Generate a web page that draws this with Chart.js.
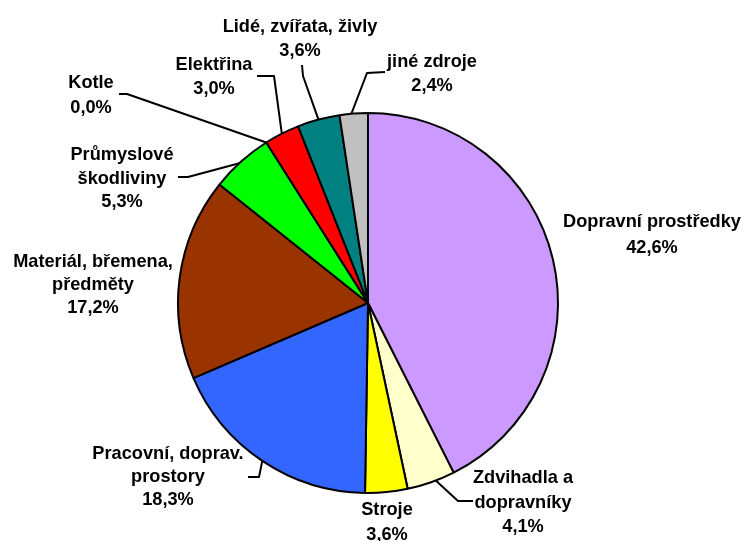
<!DOCTYPE html>
<html>
<head>
<meta charset="utf-8">
<script src="https://cdn.jsdelivr.net/npm/chart.js@4/dist/chart.umd.min.js"></script>
<style>
  html, body { margin: 0; padding: 0; background: #ffffff; }
  #wrap { width: 743px; height: 541px; }
</style>
</head>
<body>
<div id="wrap"><canvas id="c" width="743" height="541"></canvas></div>
<script>
// ---- DATA ----
const categories = [
  ['Dopravní prostředky'],
  ['Zdvihadla a', 'dopravníky'],
  ['Stroje'],
  ['Pracovní, doprav.', 'prostory'],
  ['Materiál, břemena,', 'předměty'],
  ['Průmyslové', 'škodliviny'],
  ['Kotle'],
  ['Elektřina'],
  ['Lidé, zvířata, živly'],
  ['jiné zdroje']
];
const shares = [42.6, 4.1, 3.6, 18.3, 17.2, 5.3, 0.0, 3.0, 3.6, 2.4];
const sliceColors = ['#CC99FF', '#FFFFCC', '#FFFF00', '#3366FF', '#993300',
                     '#00FF00', '#FF6600', '#FF0000', '#008080', '#C0C0C0'];

// ---- label layout (annotation positions only) ----
// cx: text centre x, y: first baseline, lh: line height,
// leader: fixed points from the text side, f: fraction along the slice arc where the leader meets the pie
const labelLayout = [
  { cx: 652, y: 227, lh: 26 },
  { cx: 523, y: 483, lh: 24.5, leader: [[473, 501], [458, 501]], f: 0.4 },
  { cx: 387, y: 515, lh: 25 },
  { cx: 168, y: 459, lh: 23, leader: [[248, 477], [259, 477]], f: 0.5 },
  { cx: 93,  y: 267, lh: 23 },
  { cx: 122, y: 160, lh: 23.5, leader: [[178, 177], [188, 177]], f: 0.46 },
  { cx: 91,  y: 88,  lh: 25, leader: [[119, 94], [127, 94]], f: 0 },
  { cx: 214, y: 70,  lh: 24, leader: [[257, 76], [274, 76]], f: 0.5 },
  { cx: 300, y: 32,  lh: 24, leader: [[302, 65], [303, 76]], f: 0.5 },
  { cx: 432, y: 67,  lh: 24, leader: [[385, 72], [367, 73]], f: 0.42 }
];

const fmtPct = v => v.toFixed(1).replace('.', ',') + '%';

const labelPlugin = {
  id: 'pieLabels',
  afterDatasetsDraw(chart) {
    const ctx = chart.ctx;
    const meta = chart.getDatasetMeta(0);
    ctx.save();
    // leaders
    ctx.strokeStyle = '#000000';
    ctx.lineWidth = 2;
    ctx.lineJoin = 'round';
    meta.data.forEach((arc, i) => {
      const L = labelLayout[i];
      if (!L.leader) return;
      const p = arc.getProps(['x', 'y', 'startAngle', 'endAngle', 'outerRadius'], true);
      const a = p.startAngle + L.f * (p.endAngle - p.startAngle);
      const ex = p.x + Math.cos(a) * p.outerRadius;
      const ey = p.y + Math.sin(a) * p.outerRadius;
      ctx.beginPath();
      ctx.moveTo(L.leader[0][0], L.leader[0][1]);
      for (let k = 1; k < L.leader.length; k++) ctx.lineTo(L.leader[k][0], L.leader[k][1]);
      ctx.lineTo(ex, ey);
      ctx.stroke();
    });
    // texts
    ctx.fillStyle = '#000000';
    ctx.font = 'bold 18.2px "Liberation Sans", Arial, sans-serif';
    ctx.textAlign = 'center';
    ctx.textBaseline = 'alphabetic';
    categories.forEach((lines, i) => {
      const L = labelLayout[i];
      const all = lines.concat([fmtPct(shares[i])]);
      all.forEach((t, k) => ctx.fillText(t, L.cx, L.y + k * L.lh));
    });
    ctx.restore();
  }
};

new Chart(document.getElementById('c'), {
  type: 'pie',
  data: {
    labels: categories,
    datasets: [{
      data: shares,
      backgroundColor: sliceColors,
      borderColor: '#000000',
      borderWidth: 2,
      radius: 190
    }]
  },
  options: {
    responsive: false,
    animation: false,
    layout: { padding: { left: 0, right: 7, top: 65, bottom: 0 } },
    plugins: { legend: { display: false }, tooltip: { enabled: false }, title: { display: false } }
  },
  plugins: [labelPlugin]
});
</script>
</body>
</html>
